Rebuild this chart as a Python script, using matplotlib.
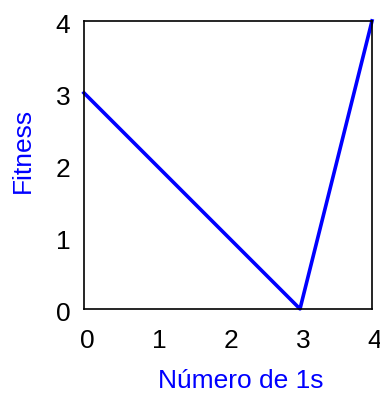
import matplotlib
matplotlib.use("Agg")
import matplotlib.pyplot as plt
import matplotlib.transforms as mtransforms

# --- data ---
ones_count = [0, 3, 4]
fitness = [3, 0, 4]
x_ticks = [0, 1, 2, 3, 4]
y_ticks = [0, 1, 2, 3, 4]

plt.rcParams['font.family'] = ['Liberation Sans', 'DejaVu Sans']

fig = plt.figure(figsize=(3.8, 3.94), dpi=100)
ax = fig.add_axes([0.221, 0.216, 0.758, 0.731])

ax.plot(ones_count, fitness, color="#0000ff", linewidth=2.6, clip_on=False)

ax.set_xlim(0, 4)
ax.set_ylim(0, 4)
ax.set_xticks(x_ticks)
ax.set_yticks(y_ticks)
ax.tick_params(length=0, labelsize=19, pad=12)
for s in ax.spines.values():
    s.set_linewidth(1.2)

# tick labels sit a few pixels right/down in the original
shift = mtransforms.ScaledTranslation(3 / 100, -3 / 100, fig.dpi_scale_trans)
for lbl in ax.get_xticklabels() + ax.get_yticklabels():
    lbl.set_transform(lbl.get_transform() + shift)

ax.set_xlabel("Número de 1s", color="#0000ff", fontsize=19, labelpad=12)
ax.set_ylabel("Fitness", color="#0000ff", fontsize=19, labelpad=15)
ax.xaxis.label.set_x(0.545)
ax.yaxis.label.set_y(0.55)

fig.savefig("out.png", dpi=100)
